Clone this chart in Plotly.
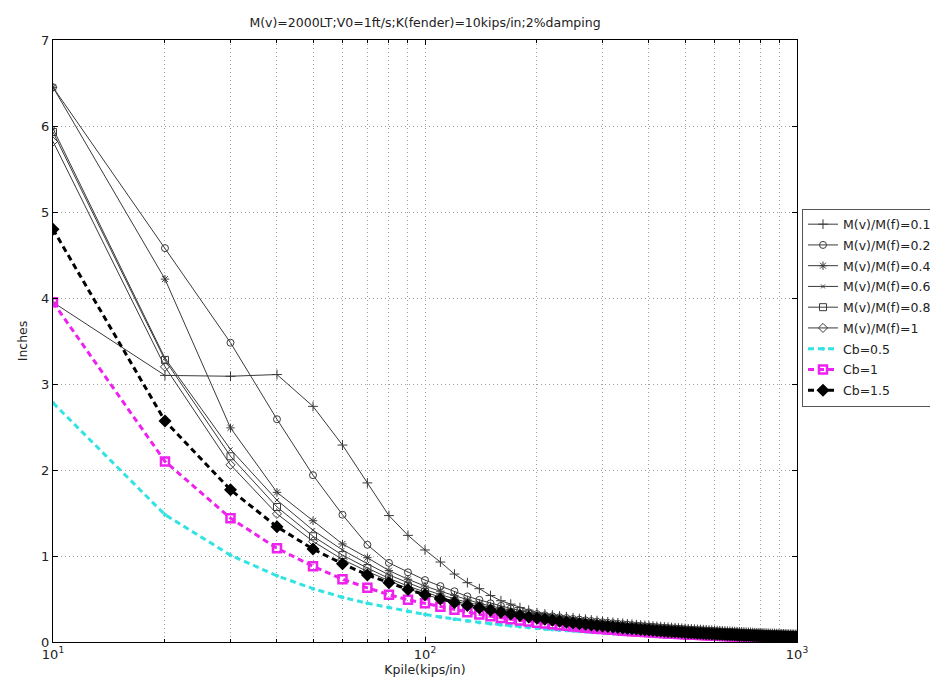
import plotly.graph_objects as go

# x values: Kpile (kips/in), 10..1000 step 10
kpile = list(range(10, 1001, 10))

m01 = [3.95, 3.10, 3.09, 3.11, 2.74, 2.29, 1.85, 1.47, 1.24, 1.07, 0.93, 0.79, 0.69, 0.62, 0.54, 0.48, 0.44, 0.40, 0.37, 0.34,
       .326, .313, .302, .291, .281, .272, .264, .255, .248, .241,
       .234, .228, .222, .217, .211, .206, .201, .197, .193, .189,
       .185, .181, .177, .174, .171, .168, .165, .162, .159, .156,
       .153, .151, .148, .146, .144, .142, .140, .138, .136, .134,
       .132, .130, .128, .127, .125, .123, .122, .120, .119, .117,
       .116, .115, .113, .112, .111, .109, .108, .107, .106, .105,
       .104, .102, .101, .100, .099, .099, .098, .097, .096, .095,
       .094, .093, .092, .091, .090, .089, .089, .088, .087, .087]

m02 = [6.45, 4.58, 3.48, 2.59, 1.94, 1.48, 1.13, 0.92, 0.81, 0.72, 0.65, 0.59, 0.53, 0.49, 0.45, 0.42, 0.39, 0.365, 0.345, 0.325,
       .311, .299, .288, .278, .268, .260, .252, .244, .237, .230,
       .223, .218, .212, .207, .202, .197, .192, .188, .184, .180,
       .177, .173, .169, .166, .163, .160, .158, .155, .152, .149,
       .146, .144, .141, .139, .138, .136, .134, .132, .130, .128,
       .126, .124, .122, .121, .119, .117, .117, .115, .114, .112,
       .111, .110, .108, .107, .106, .104, .103, .102, .101, .100,
       .099, .097, .096, .096, .095, .095, .094, .093, .092, .091,
       .090, .089, .088, .087, .086, .085, .085, .084, .083, .083]

m04 = [6.45, 4.22, 2.49, 1.74, 1.41, 1.14, 0.98, 0.83, 0.73, 0.65, 0.59, 0.54, 0.49, 0.45, 0.42, 0.39, 0.365, 0.343, 0.323, 0.305,
       .293, .282, .272, .262, .253, .245, .238, .230, .223, .217,
       .211, .205, .200, .195, .190, .185, .181, .177, .174, .170,
       .167, .163, .159, .157, .154, .151, .149, .146, .143, .140,
       .138, .136, .133, .131, .130, .128, .126, .124, .122, .121,
       .119, .117, .115, .114, .113, .111, .110, .108, .107, .105,
       .104, .104, .102, .101, .100, .098, .097, .096, .095, .095,
       .094, .092, .091, .090, .089, .089, .088, .087, .086, .086,
       .085, .084, .083, .082, .081, .080, .080, .079, .078, .078]

m06 = [5.97, 3.30, 2.24, 1.65, 1.30, 1.07, 0.91, 0.78, 0.69, 0.61, 0.55, 0.50, 0.46, 0.43, 0.40, 0.37, 0.35, 0.33, 0.31, 0.295,
       .284, .272, .263, .253, .244, .237, .230, .222, .216, .210,
       .204, .198, .193, .189, .184, .179, .175, .171, .168, .164,
       .161, .157, .154, .151, .149, .146, .144, .141, .138, .136,
       .133, .131, .129, .127, .125, .124, .122, .120, .118, .117,
       .115, .113, .111, .110, .109, .107, .106, .104, .104, .102,
       .101, .100, .098, .097, .097, .095, .094, .093, .092, .091,
       .090, .089, .088, .087, .086, .086, .085, .084, .084, .083,
       .082, .081, .080, .079, .078, .077, .077, .077, .076, .076]

m08 = [5.93, 3.28, 2.16, 1.57, 1.23, 1.01, 0.86, 0.74, 0.65, 0.58, 0.52, 0.475, 0.44, 0.41, 0.38, 0.355, 0.335, 0.315, 0.298, 0.283,
       .271, .260, .251, .242, .233, .226, .219, .212, .206, .200,
       .194, .189, .184, .180, .175, .171, .167, .164, .160, .157,
       .154, .150, .147, .144, .142, .139, .137, .134, .132, .129,
       .127, .125, .123, .121, .120, .118, .116, .115, .113, .111,
       .110, .108, .106, .105, .104, .102, .101, .100, .099, .097,
       .096, .095, .094, .093, .092, .090, .090, .089, .088, .087,
       .086, .085, .084, .083, .082, .082, .081, .081, .080, .079,
       .078, .077, .076, .076, .075, .074, .074, .073, .072, .072]

m10 = [5.82, 3.20, 2.06, 1.49, 1.17, 0.96, 0.82, 0.71, 0.62, 0.55, 0.50, 0.455, 0.42, 0.39, 0.365, 0.34, 0.32, 0.30, 0.285, 0.27,
       .261, .250, .242, .233, .225, .218, .211, .204, .198, .193,
       .187, .182, .178, .174, .169, .165, .161, .158, .154, .151,
       .148, .145, .142, .139, .137, .134, .132, .130, .127, .125,
       .122, .121, .118, .117, .115, .114, .112, .110, .109, .107,
       .106, .104, .102, .102, .100, .098, .098, .096, .095, .094,
       .093, .092, .090, .090, .089, .087, .086, .086, .085, .084,
       .083, .082, .081, .080, .079, .079, .078, .078, .077, .076,
       .075, .074, .074, .073, .072, .071, .071, .070, .070, .070]

cb05 = [2.78, 1.48, 1.01, 0.77, 0.62, 0.52, 0.45, 0.40, 0.355, 0.32, 0.29, 0.265, 0.245, 0.228, 0.213, 0.20, 0.188, 0.178, 0.168, 0.16,
        .152, .145, .139, .133, .128, .123, .119, .114, .110, .107,
        .103, .100, .097, .094, .091, .089, .087, .084, .082, .080,
        .078, .076, .074, .073, .071, .070, .068, .067, .065, .064,
        .063, .062, .060, .059, .058, .057, .056, .055, .054, .053,
        .052, .052, .051, .050, .049, .048, .048, .047, .046, .046,
        .045, .044, .044, .043, .043, .042, .042, .041, .040, .040,
        .040, .039, .039, .038, .038, .037, .037, .036, .036, .036,
        .035, .035, .034, .034, .034, .033, .033, .033, .032, .032]

cb10 = [3.95, 2.10, 1.44, 1.09, 0.88, 0.73, 0.63, 0.55, 0.49, 0.45, 0.41, 0.375, 0.345, 0.32, 0.30, 0.28, 0.265, 0.25, 0.237, 0.225,
        .214, .205, .196, .188, .180, .173, .167, .161, .155, .150,
        .145, .141, .136, .132, .129, .125, .122, .118, .115, .113,
        .110, .107, .105, .102, .100, .098, .096, .094, .092, .090,
        .088, .087, .085, .083, .082, .080, .079, .078, .076, .075,
        .074, .073, .071, .070, .069, .068, .067, .066, .065, .064,
        .063, .063, .062, .061, .060, .059, .059, .058, .057, .056,
        .056, .055, .054, .054, .053, .052, .052, .051, .051, .050,
        .050, .049, .048, .048, .047, .047, .046, .046, .046, .045]

cb15 = [4.80, 2.57, 1.77, 1.34, 1.08, 0.91, 0.78, 0.69, 0.61, 0.55, 0.50, 0.46, 0.425, 0.395, 0.37, 0.345, 0.325, 0.307, 0.291, 0.277,
        .264, .252, .241, .231, .222, .213, .205, .198, .191, .185,
        .179, .173, .168, .163, .158, .154, .150, .146, .142, .139,
        .135, .132, .129, .126, .123, .120, .118, .116, .113, .111,
        .109, .107, .104, .102, .101, .099, .097, .096, .094, .092,
        .091, .089, .088, .087, .085, .084, .083, .081, .080, .079,
        .078, .077, .076, .075, .074, .073, .072, .071, .070, .069,
        .068, .068, .067, .066, .065, .065, .064, .063, .062, .061,
        .061, .060, .060, .059, .058, .058, .057, .057, .056, .055]

names = ["M(v)/M(f)=0.1", "M(v)/M(f)=0.2", "M(v)/M(f)=0.4", "M(v)/M(f)=0.6",
         "M(v)/M(f)=0.8", "M(v)/M(f)=1", "Cb=0.5", "Cb=1", "Cb=1.5"]
title_text = "M(v)=2000LT;V0=1ft/s;K(fender)=10kips/in;2%damping"
x_ticks = [10, 100, 1000]
x_ticktext = ["10<sup>1</sup>", "10<sup>2</sup>", "10<sup>3</sup>"]
x_minor = [20, 30, 40, 50, 60, 70, 80, 90, 200, 300, 400, 500, 600, 700, 800, 900]

fig = go.Figure()

gray = "#3a3a3a"
solid_specs = [
    (m01, "cross-thin-open", 7),
    (m02, "circle-open", 7),
    (m04, "asterisk-open", 7),
    (m06, "x-thin-open", 4),
    (m08, "square-open", 7),
    (m10, "diamond-open", 7),
]
for i, (ys, sym, sz) in enumerate(solid_specs):
    fig.add_trace(go.Scatter(
        x=kpile, y=ys, name=names[i], mode="lines+markers", legendgroup=f"g{i}",
        line=dict(color=gray, width=1),
        marker=dict(symbol=sym, size=sz, color=gray, line=dict(color=gray, width=1)),
    ))

fig.add_trace(go.Scatter(
    x=kpile, y=cb05, name=names[6], mode="lines+markers", legendgroup="g6",
    line=dict(color="#33e3e3", width=3, dash="6px,4px"),
    marker=dict(symbol="circle", size=4, color="#33e3e3"),
))
fig.add_trace(go.Scatter(
    x=kpile, y=cb10, name=names[7], mode="lines+markers", legendgroup="g7",
    line=dict(color="#ee22ee", width=3, dash="6px,4px"),
    marker=dict(symbol="square-open", size=8, color="#ee22ee", line=dict(color="#ee22ee", width=2.5)),
))
fig.add_trace(go.Scatter(
    x=kpile, y=cb15, name=names[8], mode="lines+markers", legendgroup="g8",
    line=dict(color="black", width=3, dash="6px,4px"),
    marker=dict(symbol="diamond", size=10, color="black"),
))

grid_col = "#a0a0a0"
grid_dash = "1px,3px"
font_family = "DejaVu Sans, Liberation Sans, Arial, sans-serif"
fig.update_layout(
    width=938, height=681,
    margin=dict(l=45, r=149, t=32, b=47, autoexpand=False),
    paper_bgcolor="white", plot_bgcolor="white",
    font=dict(family=font_family, size=13, color="#222"),
    title=dict(text=title_text, x=0.5, xref="paper", xanchor="center",
               y=1 - 15 / 681, yref="container", yanchor="middle",
               font=dict(size=12.5, color="#222")),
    showlegend=True,
    legend=dict(x=1.0067, xanchor="left", y=0.72, yanchor="top",
                bgcolor="white", bordercolor="#555", borderwidth=1,
                font=dict(size=12.5, color="#222"), itemwidth=30,
                tracegroupgap=1.5, traceorder="grouped"),
)
fig.update_xaxes(
    type="log", range=[1, 3], automargin=False,
    tickmode="array", tickvals=x_ticks, ticktext=x_ticktext,
    ticks="inside", ticklen=5, tickcolor="black",
    showline=True, linecolor="black", linewidth=1, mirror="allticks",
    showgrid=True, gridcolor=grid_col, griddash=grid_dash, gridwidth=1,
    minor=dict(tickmode="array", tickvals=x_minor, ticks="inside", ticklen=3,
               tickcolor="black", showgrid=True, gridcolor=grid_col, griddash=grid_dash),
    title=dict(text="Kpile(kips/in)", standoff=2, font=dict(size=12.5)),
    zeroline=False,
)
fig.update_yaxes(
    range=[0, 7], tickmode="linear", tick0=0, dtick=1, automargin=False,
    ticks="inside", ticklen=5, tickcolor="black",
    showline=True, linecolor="black", linewidth=1, mirror="allticks",
    showgrid=True, gridcolor=grid_col, griddash=grid_dash, gridwidth=1,
    title=dict(text="Inches", standoff=10, font=dict(size=12.5)),
    zeroline=False,
)

fig.write_html("out.html")
